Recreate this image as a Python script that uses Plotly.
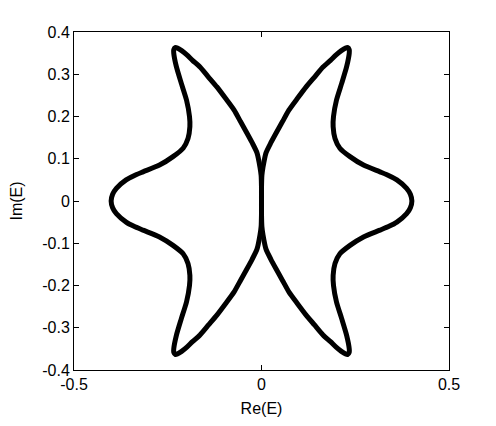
import plotly.graph_objects as go

# Upper-right quadrant of the right lobe:
# starts at the origin, climbs the inner branch to the tip, then
# descends the outer branch to the real axis.
quad_re = [0.000, 0.000, 0.001, 0.004, 0.012, 0.025, 0.039, 0.056, 0.073, 0.096, 0.119,
           0.142, 0.164, 0.184, 0.199, 0.213, 0.224, 0.230, 0.234, 0.234,
           0.227, 0.214, 0.200, 0.192, 0.191, 0.196, 0.209, 0.236, 0.272,
           0.316, 0.340, 0.361, 0.387, 0.397, 0.401]
quad_im = [0.000, 0.030, 0.060, 0.080, 0.114, 0.138, 0.161, 0.188, 0.215, 0.243, 0.270,
           0.294, 0.317, 0.333, 0.346, 0.356, 0.362, 0.363, 0.358, 0.350,
           0.318, 0.279, 0.239, 0.200, 0.176, 0.148, 0.125, 0.105, 0.085,
           0.069, 0.060, 0.050, 0.030, 0.016, 0.000]

x_ticks = [-0.5, 0, 0.5]
x_ticktext = ["-0.5", "0", "0.5"]
y_ticks = [-0.4, -0.3, -0.2, -0.1, 0, 0.1, 0.2, 0.3, 0.4]
y_ticktext = ["-0.4", "-0.3", "-0.2", "-0.1", "0", "0.1", "0.2", "0.3", "0.4"]

# Right lobe: upper half followed by its mirror in the real axis
right_re = quad_re + quad_re[::-1][1:]
right_im = quad_im + [-v for v in quad_im[::-1][1:]]
# Left lobe: mirror of the right lobe in the imaginary axis
left_re = [-v for v in right_re]
left_im = right_im

fig = go.Figure()
for xs, ys in [(right_re, right_im), (left_re, left_im)]:
    fig.add_trace(go.Scatter(
        x=xs, y=ys, mode="lines",
        line=dict(color="black", width=5, shape="spline", smoothing=0.6),
        showlegend=False, hoverinfo="skip"))

font = dict(family="Liberation Sans, Arial, Helvetica, sans-serif", size=16, color="black")
axis_common = dict(
    showgrid=False, zeroline=False, showline=True, linecolor="black", linewidth=1,
    mirror="ticks", ticks="inside", ticklen=5, tickcolor="black", tickwidth=1,
    tickfont=font, automargin=False,
)
fig.update_xaxes(range=[-0.5, 0.5], tickvals=x_ticks, ticktext=x_ticktext,
                 title=dict(text="Re(E)", font=font, standoff=10), **axis_common)
fig.update_yaxes(range=[-0.4, 0.4], tickvals=y_ticks, ticktext=y_ticktext,
                 title=dict(text="Im(E)", font=font, standoff=15), **axis_common)
fig.update_layout(
    width=488, height=418,
    margin=dict(l=66, r=47, t=24, b=56),
    paper_bgcolor="white", plot_bgcolor="white",
    font=font,
)
fig.write_html("out.html")
